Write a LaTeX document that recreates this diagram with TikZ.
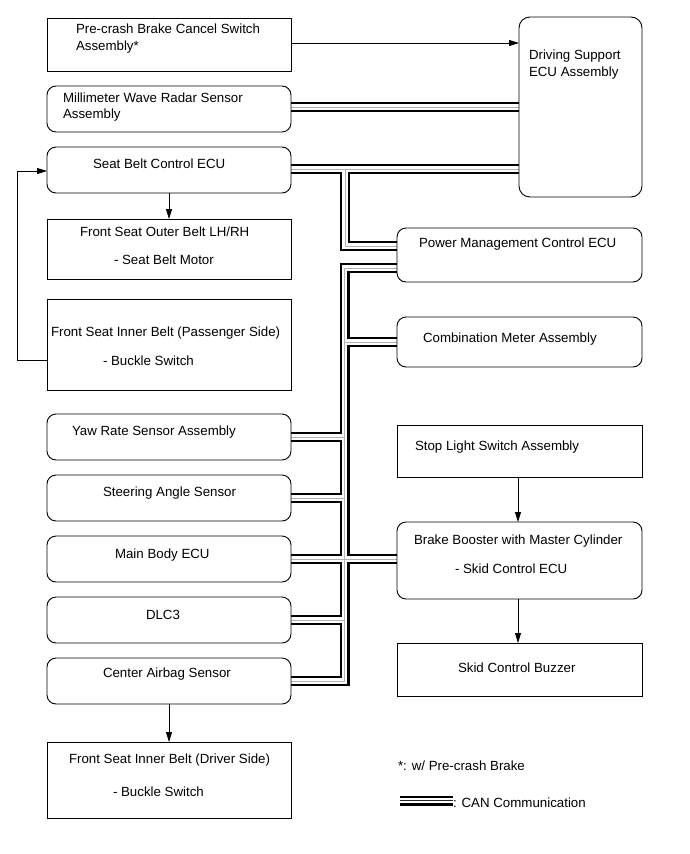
\documentclass[tikz,border=0pt]{standalone}
\usepackage{fontspec}
\setmainfont{Liberation Sans}
\usetikzlibrary{arrows.meta}
\pgfdeclarelayer{bg}
\pgfsetlayers{bg,main}
\begin{document}
\begin{tikzpicture}[x=1pt,y=-1pt,
  every node/.style={font=\fontsize{13.3}{16}\selectfont},
  sqbox/.style={draw, line width=0.9pt, fill=white, inner sep=0pt, outer sep=0pt, minimum width=244pt},
  rbox/.style={sqbox, rounded corners=9pt},
  txt/.style={anchor=base west, inner sep=0pt, outer sep=0pt, draw=none, fill=none},
  conn/.style={line width=0.8pt, -{Triangle[length=10pt,width=6pt]}},
  plainline/.style={line width=0.8pt},
]
\useasboundingbox (0,0) rectangle (690,854);

% ---------- boxes ----------
\node[sqbox, minimum height=53pt] (pre) at (169,44.5) {};
\node[rbox, minimum width=123pt, minimum height=180pt, rounded corners=11pt] (ds) at (580.5,107) {};
\node[rbox, minimum height=46pt] (mmw) at (169,109) {};
\node[rbox, minimum height=46pt] (sb) at (169,170) {};
\node[sqbox, minimum height=60pt] (outer) at (169,249) {};
\node[sqbox, minimum height=91pt] (pass) at (169,344.5) {};
\node[rbox, minimum height=46pt] (yaw) at (169,437) {};
\node[rbox, minimum height=46pt] (steer) at (169,498) {};
\node[rbox, minimum height=46pt] (mbecu) at (169,559) {};
\node[rbox, minimum height=46pt] (dlc) at (169,620) {};
\node[rbox, minimum height=46pt] (air) at (169,681) {};
\node[sqbox, minimum height=76pt] (drv) at (169,780) {};
\node[rbox, minimum width=245pt, minimum height=54pt] (pm) at (519.5,255) {};
\node[rbox, minimum width=245pt, minimum height=50pt] (combo) at (519.5,342) {};
\node[sqbox, minimum width=245pt, minimum height=52pt] (stop) at (519.5,451) {};
\node[rbox, minimum width=245pt, minimum height=77pt] (brake) at (519.5,560.5) {};
\node[sqbox, minimum width=245pt, minimum height=53pt] (buzz) at (519.5,669.5) {};

% ---------- texts ----------
\node[txt] (t1a) at (76,33) {Pre-crash Brake Cancel Switch};
\node[txt] (t1b) at (76,50) {Assembly*};
\node[txt] (t2a) at (529,59) {Driving Support};
\node[txt] (t2b) at (529,76) {ECU Assembly};
\node[txt] (t3a) at (63,102) {Millimeter Wave Radar Sensor};
\node[txt] (t3b) at (63,118) {Assembly};
\node[txt] (t4) at (93,168) {Seat Belt Control ECU};
\node[txt] (t5a) at (80,236) {Front Seat Outer Belt LH/RH};
\node[txt] (t5b) at (114,264) {- Seat Belt Motor};
\node[txt] (t6a) at (51,336) {Front Seat Inner Belt (Passenger Side)};
\node[txt] (t6b) at (103,365) {- Buckle Switch};
\node[txt] (t7) at (72,435) {Yaw Rate Sensor Assembly};
\node[txt] (t8) at (103,496) {Steering Angle Sensor};
\node[txt] (t9) at (115,558) {Main Body ECU};
\node[txt] (t10) at (146,619) {DLC3};
\node[txt] (t11) at (103,677) {Center Airbag Sensor};
\node[txt] (t12a) at (69,763) {Front Seat Inner Belt (Driver Side)};
\node[txt] (t12b) at (113,796) {- Buckle Switch};
\node[txt] (t13) at (419,247) {Power Management Control ECU};
\node[txt] (t14) at (423,342) {Combination Meter Assembly};
\node[txt] (t15) at (415,450) {Stop Light Switch Assembly};
\node[txt] (t16a) at (414,544) {Brake Booster with Master Cylinder};
\node[txt] (t16b) at (455,573) {- Skid Control ECU};
\node[txt] (t17) at (458,672) {Skid Control Buzzer};
\node[txt] (t18) at (398,770) {*: w/ Pre-crash Brake};
\node[txt] (t19) at (453,807) {: CAN Communication};

% ---------- helper coordinates ----------
\coordinate (ya) at (0,107);
\coordinate (yp) at (0,43);
\coordinate (jb) at (345,169);
\coordinate (jbp) at (345,246);
\coordinate (jc) at (344.5,268);
\coordinate (jend) at (344.5,681);
\coordinate (fb) at (17,360);
\coordinate (fbt) at (17,171);
\coordinate (lg1) at (400,800.5);
\coordinate (lg2) at (453,800.5);

% ---------- CAN buses ----------
\begin{pgfonlayer}{bg}
\foreach \w/\c in {10/black, 5.5/white, 0.9/gray!60} {
  \draw[line width=\w pt, color=\c, line join=miter]
    (mmw.east |- ya) -- (ds.west |- ya)
    (sb.east |- jb) -- (ds.west |- jb)
    (jb) -- (jbp) -- (pm.west |- jbp)
    (pm.west |- jc) -- (jc) -- (jend) -- (air.east |- jend)
    (combo.west) -- (jc |- combo.west)
    (yaw.east) -- (jc |- yaw.east)
    (steer.east) -- (jc |- steer.east)
    (mbecu.east) -- (brake.west |- mbecu.east)
    (dlc.east) -- (jc |- dlc.east);
}
\foreach \w/\c in {10/black, 5.5/white, 1.2/black!85} {
  \draw[line width=\w pt, color=\c] (lg1) -- (lg2);
}
\end{pgfonlayer}

% ---------- thin connectors ----------
\draw[conn] (pre.east |- yp) -- (ds.west |- yp);
\draw[conn] (sb.south) -- (outer.north);
\draw[conn] (pass.west |- fb) -- (fb) -- (fbt) -- (sb.west |- fbt);
\draw[conn] (air.south) -- (drv.north);
\draw[conn] (stop.south -| 518,0) -- (brake.north -| 518,0);
\draw[conn] (brake.south -| 518,0) -- (buzz.north -| 518,0);
\end{tikzpicture}
\end{document}
